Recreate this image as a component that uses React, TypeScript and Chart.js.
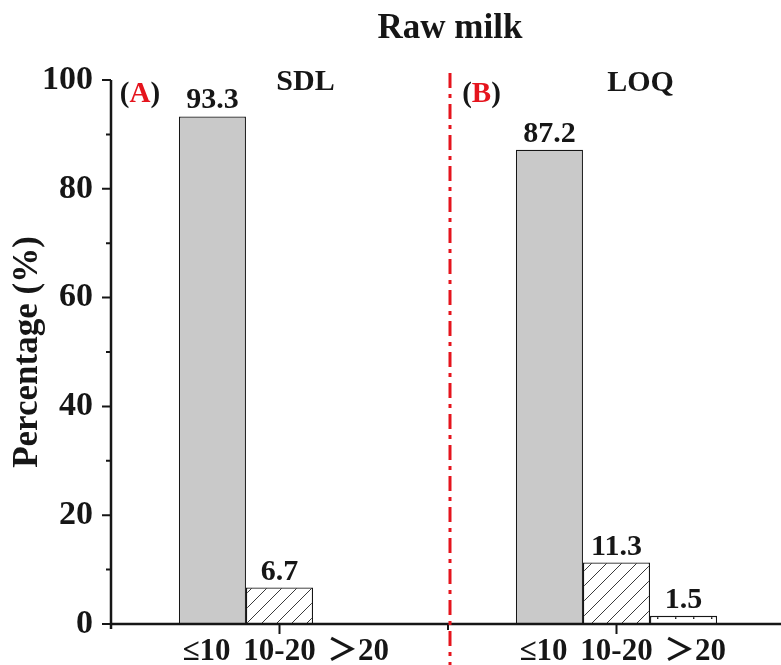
import React, { useEffect, useRef } from "react";
import { Chart, registerables } from "chart.js";

Chart.register(...registerables);

// Raw milk: share of samples per range, for SDL (A) and LOQ (B)
const groups = ["SDL", "LOQ"];
const panelTags = ["A", "B"];
const bins = ["≤10", "10-20", "＞20"];
const below10 = [93.3, 87.2];
const from10to20 = [6.7, 11.3];
const above20: (number | null)[] = [null, 1.5];
const yMajorTicks = [0, 20, 40, 60, 80, 100];
const yMinorTicks = [10, 30, 50, 70, 90];

const SERIF = '"Liberation Serif", "Times New Roman", serif';
const INK = "#161616";
const RED = "#e5141d";

function hatchPattern(): CanvasPattern | string {
  const c = document.createElement("canvas");
  const s = 15;
  c.width = s;
  c.height = s;
  const g = c.getContext("2d");
  if (!g) return "#fff";
  g.fillStyle = "#ffffff";
  g.fillRect(0, 0, s, s);
  g.strokeStyle = "#3a3a3a";
  g.lineWidth = 1;
  g.beginPath();
  g.moveTo(-2, s + 2);
  g.lineTo(s + 2, -2);
  g.moveTo(-2, 2);
  g.lineTo(2, -2);
  g.moveTo(s - 2, s + 2);
  g.lineTo(s + 2, s - 2);
  g.stroke();
  return g.createPattern(c, "repeat") || "#fff";
}

function dashPattern(): CanvasPattern | string {
  const c = document.createElement("canvas");
  c.width = 18;
  c.height = 8;
  const g = c.getContext("2d");
  if (!g) return "#fff";
  g.fillStyle = "#ffffff";
  g.fillRect(0, 0, 18, 8);
  g.fillStyle = "#222";
  g.fillRect(9, 0, 1.4, 3);
  return g.createPattern(c, "repeat") || "#fff";
}

const decorations = {
  id: "decorations",
  afterDraw(chart: any) {
    const { ctx, chartArea, scales } = chart;
    const x = scales.x;
    const y = scales.y;
    const y0 = y.getPixelForValue(0);
    const yTop = y.getPixelForValue(100);
    const left = chartArea.left;
    const centers = groups.map((_, i) => x.getPixelForValue(i));
    const boundary = (centers[0] + centers[1]) / 2;

    ctx.save();

    // value labels over the bars
    ctx.fillStyle = INK;
    ctx.font = `bold 30px ${SERIF}`;
    ctx.textAlign = "center";
    ctx.textBaseline = "alphabetic";
    chart.data.datasets.forEach((ds: any, di: number) => {
      const meta = chart.getDatasetMeta(di);
      meta.data.forEach((el: any, i: number) => {
        const v = ds.data[i];
        if (v === null || v === undefined) return;
        ctx.fillText(v.toFixed(1), el.x, el.y - 8);
      });
    });

    // axes
    ctx.strokeStyle = INK;
    ctx.lineWidth = 2.5;
    ctx.beginPath();
    ctx.moveTo(left, yTop);
    ctx.lineTo(left, y0 + 5);
    ctx.moveTo(left, y0);
    ctx.lineTo(chart.width, y0);
    ctx.stroke();

    ctx.lineWidth = 2;
    ctx.beginPath();
    yMajorTicks.forEach((t) => {
      const p = y.getPixelForValue(t);
      ctx.moveTo(left - 9, p);
      ctx.lineTo(left, p);
    });
    yMinorTicks.forEach((t) => {
      const p = y.getPixelForValue(t);
      ctx.moveTo(left - 5, p);
      ctx.lineTo(left, p);
    });
    centers.forEach((c) => {
      ctx.moveTo(c, y0);
      ctx.lineTo(c, y0 + 10);
    });
    ctx.moveTo(boundary, y0);
    ctx.lineTo(boundary, y0 + 6);
    ctx.stroke();

    // dash-dot separator between the two panels
    ctx.strokeStyle = RED;
    ctx.lineWidth = 3;
    ctx.setLineDash([15, 6, 4, 6]);
    ctx.beginPath();
    ctx.moveTo(boundary + 2, 73);
    ctx.lineTo(boundary + 2, chart.height);
    ctx.stroke();
    ctx.setLineDash([]);

    // category labels under each panel
    ctx.fillStyle = INK;
    ctx.font = `bold 31px ${SERIF}`;
    const offsets = [-73, 0, 80];
    centers.forEach((c) => {
      bins.forEach((b, k) => {
        if (b.startsWith("＞")) {
          ctx.textAlign = "left";
          ctx.font = `bold 31px "Noto Sans CJK SC", ${SERIF}`;
          const gw = ctx.measureText("＞").width;
          ctx.font = `bold 31px ${SERIF}`;
          const dw = ctx.measureText(b.slice(1)).width;
          const start = c + offsets[k] - (gw * 0.9 + dw) / 2;
          ctx.font = `bold 31px "Noto Sans CJK SC", ${SERIF}`;
          ctx.fillText("＞", start - gw * 0.1, 660);
          ctx.font = `bold 31px ${SERIF}`;
          ctx.fillText(b.slice(1), start + gw * 0.9, 660);
          ctx.textAlign = "center";
        } else {
          ctx.textAlign = "center";
          ctx.fillText(b, c + offsets[k], 660);
        }
      });
    });

    // panel tags: (A) and (B) with red letters
    ctx.font = `bold 29px ${SERIF}`;
    ctx.textAlign = "left";
    const tagCenters = [centers[0] - 139.5, centers[1] - 135];
    panelTags.forEach((tag, i) => {
      const open = ctx.measureText("(").width;
      const mid = ctx.measureText(tag).width;
      const total = open * 2 + mid;
      let cx = tagCenters[i] - total / 2;
      ctx.fillStyle = INK;
      ctx.fillText("(", cx, 102);
      cx += open;
      ctx.fillStyle = RED;
      ctx.fillText(tag, cx, 102);
      cx += mid;
      ctx.fillStyle = INK;
      ctx.fillText(")", cx, 102);
    });

    // panel names
    ctx.fillStyle = INK;
    ctx.textAlign = "center";
    ctx.font = `bold 30px ${SERIF}`;
    ctx.fillText(groups[0], centers[0] + 26, 90);
    ctx.fillText(groups[1], centers[1] + 24, 91);

    // chart title
    ctx.font = `bold 35px ${SERIF}`;
    ctx.fillText("Raw milk", 450, 38);

    // y-axis title
    ctx.save();
    ctx.translate(37, 352);
    ctx.rotate(-Math.PI / 2);
    ctx.font = `bold 35px ${SERIF}`;
    ctx.textAlign = "center";
    ctx.fillText("Percentage (%)", 0, 0);
    ctx.restore();

    ctx.restore();
  },
};

export default function App() {
  const ref = useRef<HTMLCanvasElement | null>(null);

  useEffect(() => {
    document.body.style.margin = "0";
    const canvas = ref.current;
    if (!canvas) return;
    const border = { borderColor: INK, borderWidth: 1.3 };
    const chart = new Chart(canvas, {
      type: "bar",
      data: {
        labels: groups,
        datasets: [
          { label: bins[0], data: below10, backgroundColor: "#c9c9c9", ...border },
          { label: bins[1], data: from10to20, backgroundColor: hatchPattern(), ...border },
          { label: bins[2], data: above20, backgroundColor: dashPattern(), ...border },
        ],
      },
      options: {
        animation: false,
        responsive: false,
        devicePixelRatio: 1,
        layout: { padding: { left: 0, right: 0, top: 80, bottom: 0 } },
        datasets: { bar: { categoryPercentage: 0.597, barPercentage: 1 } },
        plugins: {
          legend: { display: false },
          tooltip: { enabled: false },
          title: { display: false },
        },
        scales: {
          x: {
            type: "category",
            offset: true,
            grid: { display: false },
            border: { display: false },
            ticks: { display: false },
            afterFit: (s: any) => {
              s.height = 41;
            },
          },
          y: {
            min: 0,
            max: 100,
            grid: { drawOnChartArea: false, drawTicks: false, tickLength: 0, color: "rgba(0,0,0,0)" },
            border: { display: false },
            ticks: {
              stepSize: 20,
              padding: 18,
              color: INK,
              font: { family: SERIF, size: 34, weight: "bold" },
            },
            afterFit: (s: any) => {
              s.width = 111;
            },
          },
        },
      },
      plugins: [decorations],
    } as any);
    return () => chart.destroy();
  }, []);

  // the plot runs slightly past the right edge, so the frame clips it
  return (
    <div style={{ width: 781, height: 665, overflow: "hidden" }}>
      <canvas ref={ref} width={785} height={665} style={{ display: "block" }} />
    </div>
  );
}
